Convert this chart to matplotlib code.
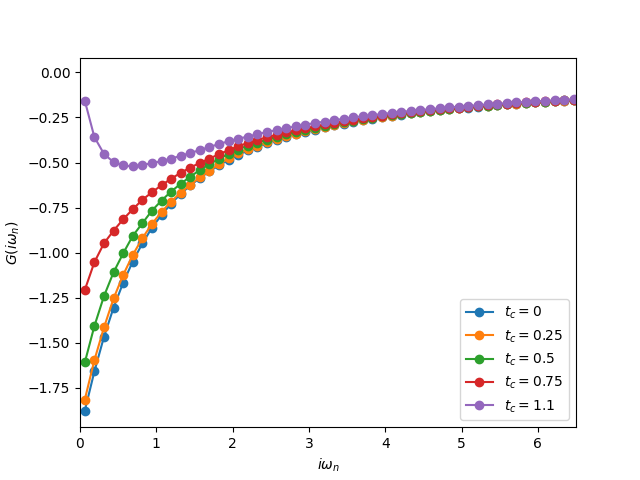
import matplotlib
matplotlib.use('Agg')
import matplotlib.pyplot as plt

# Matsubara frequencies (beta = 50)
w_n = [0.0628, 0.1885, 0.3142, 0.4398, 0.5655, 0.6912, 0.8168, 0.9425, 1.0681, 1.1938,
       1.3195, 1.4451, 1.5708, 1.6965, 1.8221, 1.9478, 2.0735, 2.1991, 2.3248, 2.4504,
       2.5761, 2.7018, 2.8274, 2.9531, 3.0788, 3.2044, 3.3301, 3.4558, 3.5814, 3.7071,
       3.8327, 3.9584, 4.0841, 4.2097, 4.3354, 4.4611, 4.5867, 4.7124, 4.8381, 4.9637,
       5.0894, 5.2150, 5.3407, 5.4664, 5.5920, 5.7177, 5.8434, 5.9690, 6.0947, 6.2204,
       6.3460, 6.4717]

tc_labels = ['0', '0.25', '0.5', '0.75', '1.1']

g_tc0 = [-1.877, -1.659, -1.467, -1.305, -1.167, -1.049, -0.949, -0.862, -0.791, -0.728,
         -0.674, -0.627, -0.586, -0.549, -0.515, -0.485, -0.458, -0.433, -0.412, -0.392,
         -0.375, -0.358, -0.343, -0.329, -0.317, -0.305, -0.294, -0.284, -0.274, -0.265,
         -0.257, -0.249, -0.241, -0.234, -0.228, -0.221, -0.216, -0.210, -0.205, -0.200,
         -0.195, -0.190, -0.186, -0.181, -0.177, -0.174, -0.170, -0.166, -0.163, -0.160,
         -0.157, -0.154]
g_tc025 = [-1.815, -1.596, -1.415, -1.254, -1.124, -1.013, -0.920, -0.841, -0.774, -0.717,
           -0.667, -0.624, -0.582, -0.545, -0.510, -0.477, -0.448, -0.426, -0.406, -0.387,
           -0.370, -0.354, -0.340, -0.326, -0.314, -0.302, -0.292, -0.282, -0.272, -0.263,
           -0.255, -0.247, -0.240, -0.233, -0.227, -0.221, -0.215, -0.209, -0.204, -0.199,
           -0.194, -0.189, -0.185, -0.181, -0.177, -0.173, -0.170, -0.166, -0.163, -0.159,
           -0.156, -0.153]
g_tc05 = [-1.609, -1.407, -1.241, -1.109, -1.004, -0.907, -0.837, -0.767, -0.711, -0.661,
          -0.618, -0.578, -0.542, -0.509, -0.480, -0.452, -0.428, -0.406, -0.389, -0.373,
          -0.358, -0.343, -0.330, -0.318, -0.307, -0.296, -0.286, -0.276, -0.268, -0.259,
          -0.251, -0.244, -0.237, -0.230, -0.224, -0.218, -0.212, -0.207, -0.202, -0.197,
          -0.192, -0.188, -0.184, -0.180, -0.176, -0.172, -0.168, -0.165, -0.162, -0.159,
          -0.155, -0.153]
g_tc075 = [-1.207, -1.053, -0.948, -0.878, -0.815, -0.759, -0.707, -0.665, -0.626, -0.590,
           -0.557, -0.528, -0.502, -0.478, -0.454, -0.431, -0.410, -0.391, -0.375, -0.360,
           -0.346, -0.333, -0.321, -0.310, -0.299, -0.289, -0.280, -0.271, -0.262, -0.255,
           -0.247, -0.240, -0.233, -0.227, -0.221, -0.215, -0.210, -0.205, -0.200, -0.195,
           -0.190, -0.186, -0.182, -0.178, -0.174, -0.171, -0.167, -0.164, -0.161, -0.157,
           -0.154, -0.152]
g_tc11 = [-0.157, -0.359, -0.452, -0.498, -0.516, -0.522, -0.513, -0.504, -0.492, -0.478,
          -0.463, -0.447, -0.431, -0.414, -0.397, -0.382, -0.368, -0.356, -0.343, -0.331,
          -0.320, -0.309, -0.300, -0.290, -0.281, -0.273, -0.265, -0.258, -0.250, -0.243,
          -0.237, -0.231, -0.225, -0.219, -0.214, -0.209, -0.204, -0.199, -0.194, -0.190,
          -0.186, -0.182, -0.178, -0.174, -0.171, -0.167, -0.164, -0.161, -0.158, -0.155,
          -0.152, -0.149]

series = [g_tc0, g_tc025, g_tc05, g_tc075, g_tc11]

fig, ax = plt.subplots(figsize=(6.4, 4.8), dpi=100)

for g, lab in zip(series, tc_labels):
    ax.plot(w_n, g, 'o-', label=r'$t_c=' + lab + '$')

ax.set_xlim(0, 6.5)
ax.set_ylim(-1.968, 0.082)
ax.set_xlabel(r'$i\omega_n$')
ax.set_ylabel(r'$G(i\omega_n)$')
ax.legend(loc='lower right')

fig.savefig('out.png')
